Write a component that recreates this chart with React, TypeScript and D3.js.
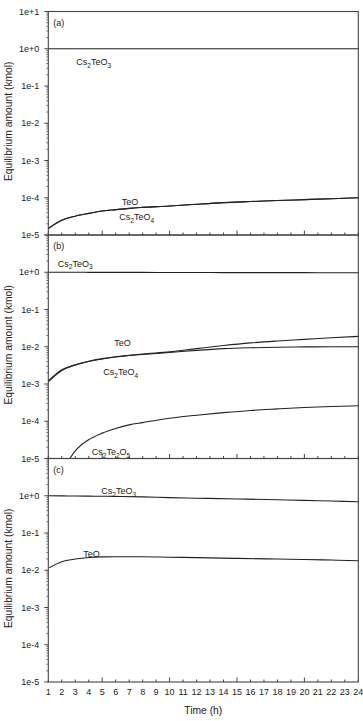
import React, { useEffect, useRef } from "react";
import * as d3 from "d3";

// hours shown on the time axis
const hourTicks = d3.range(1, 25);
const decadeLabels = ["1e-5", "1e-4", "1e-3", "1e-2", "1e-1", "1e+0", "1e+1"];

// (a)
const timeA = [1, 2, 3, 4, 5, 6, 7, 8, 10, 12, 14, 16, 18, 20, 22, 24];
const cs2teo3A = [1, 1, 1, 1, 1, 1, 1, 1, 1, 1, 1, 1, 1, 1, 1, 1];
const teoA = [1.5e-5, 2.5e-5, 3.2e-5, 3.8e-5, 4.4e-5, 4.8e-5, 5.2e-5, 5.5e-5, 6.0e-5, 6.7e-5, 7.4e-5, 7.9e-5, 8.4e-5, 8.9e-5, 9.4e-5, 1.0e-4];
const cs2teo4A = [1.5e-5, 2.5e-5, 3.2e-5, 3.8e-5, 4.4e-5, 4.8e-5, 5.2e-5, 5.5e-5, 6.0e-5, 6.7e-5, 7.4e-5, 7.9e-5, 8.4e-5, 8.9e-5, 9.4e-5, 1.0e-4];

// (b)
const timeB = [1, 2, 3, 4, 5, 6, 7, 8, 10, 12, 14, 16, 18, 20, 22, 24];
const cs2teo3B = [1, 1, 1, 0.995, 0.995, 0.99, 0.99, 0.99, 0.985, 0.985, 0.98, 0.98, 0.975, 0.975, 0.97, 0.97];
const teoB = [1.2e-3, 2.4e-3, 3.3e-3, 4.1e-3, 4.8e-3, 5.4e-3, 5.9e-3, 6.4e-3, 7.3e-3, 8.9e-3, 1.08e-2, 1.27e-2, 1.43e-2, 1.58e-2, 1.75e-2, 1.9e-2];
const cs2teo4B = [1.15e-3, 2.3e-3, 3.2e-3, 4.0e-3, 4.7e-3, 5.3e-3, 5.8e-3, 6.2e-3, 7.0e-3, 8.0e-3, 8.9e-3, 9.4e-3, 9.7e-3, 9.9e-3, 1.0e-2, 1.0e-2];
const timeB2 = [2.6, 3, 4, 5, 6, 7, 8, 10, 12, 14, 16, 18, 20, 22, 24];
const cs2te2o5B = [1.0e-5, 1.6e-5, 3.2e-5, 4.8e-5, 6.4e-5, 8.0e-5, 9.2e-5, 1.2e-4, 1.45e-4, 1.7e-4, 1.95e-4, 2.15e-4, 2.35e-4, 2.5e-4, 2.6e-4];

// (c)
const timeC = [1, 2, 3, 4, 5, 6, 8, 10, 12, 15, 18, 20, 22, 24];
const cs2teo3C = [1.0, 0.99, 0.985, 0.975, 0.97, 0.96, 0.93, 0.89, 0.86, 0.82, 0.78, 0.75, 0.72, 0.69];
const teoC = [1.14e-2, 1.7e-2, 2.0e-2, 2.2e-2, 2.28e-2, 2.3e-2, 2.3e-2, 2.24e-2, 2.18e-2, 2.08e-2, 2.0e-2, 1.95e-2, 1.88e-2, 1.8e-2];

type Series = { t: number[]; v: number[] };
type Label = { text: string; x: number; y: number };

const panels: { tag: string; series: Series[]; labels: Label[] }[] = [
  {
    tag: "(a)",
    series: [
      { t: timeA, v: cs2teo3A },
      { t: timeA, v: teoA },
      { t: timeA, v: cs2teo4A },
    ],
    // label anchors in pixels relative to panel top-left (plot area)
    labels: [
      { text: "Cs_2TeO_3", x: 28, y: 53.5 },
      { text: "TeO", x: 73.5, y: 193 },
      { text: "Cs_2TeO_4", x: 71, y: 208.5 },
    ],
  },
  {
    tag: "(b)",
    series: [
      { t: timeB, v: cs2teo3B },
      { t: timeB, v: teoB },
      { t: timeB, v: cs2teo4B },
      { t: timeB2, v: cs2te2o5B },
    ],
    labels: [
      { text: "Cs_2TeO_3", x: 9.5, y: 31.5 },
      { text: "TeO", x: 66, y: 111 },
      { text: "Cs_2TeO_4", x: 55, y: 140 },
      { text: "Cs_2Te_2O_5", x: 43.5, y: 220 },
    ],
  },
  {
    tag: "(c)",
    series: [
      { t: timeC, v: cs2teo3C },
      { t: timeC, v: teoC },
    ],
    labels: [
      { text: "Cs_2TeO_3", x: 53, y: 35.5 },
      { text: "TeO", x: 35, y: 98.5 },
    ],
  },
];

const FONT = "'Liberation Sans', Arial, Helvetica, sans-serif";
const INK = "#222";
const FRAME = "#444";

const App = () => {
  const chartRef = useRef<SVGSVGElement>(null);

  useEffect(() => {
    const svg = d3.select(chartRef.current);
    svg.selectAll("*").remove();

    const width = 363;
    const height = 721;
    const left = 48.3;
    const right = 358.3;
    const top0 = 11.5;
    const panelH = 223.5;

    svg.attr("width", width).attr("height", height);
    svg.append("rect").attr("width", width).attr("height", height).attr("fill", "#fff");

    const x = d3.scaleLinear().domain([1, 24]).range([left, right]);

    const addLabel = (g: any, text: string, lx: number, ly: number) => {
      const t = g
        .append("text")
        .attr("x", lx)
        .attr("y", ly)
        .attr("font-family", FONT)
        .attr("font-size", 9)
        .attr("fill", INK);
      // "_2" marks a subscript digit
      const parts = text.split(/(_\d)/).filter((s) => s.length);
      let sub = false;
      parts.forEach((p) => {
        if (p.startsWith("_")) {
          t.append("tspan").attr("dy", 2.5).attr("font-size", 6.5).text(p.slice(1));
          sub = true;
        } else {
          t.append("tspan").attr("dy", sub ? -2.5 : 0).text(p);
          sub = false;
        }
      });
    };

    panels.forEach((panel, i) => {
      const top = top0 + i * panelH;
      const bottom = top + panelH;
      const y = d3.scaleLog().domain([1e-5, 1e1]).range([bottom, top]);

      const clipId = `clip-${i}`;
      svg
        .append("clipPath")
        .attr("id", clipId)
        .append("rect")
        .attr("x", left)
        .attr("y", top)
        .attr("width", right - left)
        .attr("height", panelH);

      const line = d3.line().curve(d3.curveMonotoneX);

      const g = svg.append("g").attr("clip-path", `url(#${clipId})`);
      panel.series.forEach((s) => {
        const pts = s.t.map((t, j) => [x(t), y(s.v[j])] as [number, number]);
        g.append("path")
          .attr("d", line(pts))
          .attr("fill", "none")
          .attr("stroke", INK)
          .attr("stroke-width", 1.1);
      });

      // frame
      svg
        .append("rect")
        .attr("x", left)
        .attr("y", top)
        .attr("width", right - left)
        .attr("height", panelH)
        .attr("fill", "none")
        .attr("stroke", FRAME)
        .attr("stroke-width", 1.1);

      // y ticks: decades and 2..9 minors, pointing out
      const decades = d3.range(-5, 2);
      decades.forEach((d, k) => {
        const v = Math.pow(10, d);
        svg
          .append("line")
          .attr("x1", left - 4)
          .attr("x2", left)
          .attr("y1", y(v))
          .attr("y2", y(v))
          .attr("stroke", FRAME)
          .attr("stroke-width", 1);
        if (d < 1) {
          for (let m = 2; m <= 9; m++) {
            svg
              .append("line")
              .attr("x1", left - 2)
              .attr("x2", left)
              .attr("y1", y(m * v))
              .attr("y2", y(m * v))
              .attr("stroke", FRAME)
              .attr("stroke-width", 0.7);
          }
        }
        if (d < 1 || i === 0) {
          svg
            .append("text")
            .attr("x", left - 9)
            .attr("y", y(v))
            .attr("dy", "0.35em")
            .attr("text-anchor", "end")
            .attr("font-family", FONT)
            .attr("font-size", 9)
            .attr("fill", INK)
            .text(decadeLabels[k]);
        }
      });

      // x ticks pointing into the plot
      hourTicks.forEach((h) => {
        const major = h % 5 === 0;
        svg
          .append("line")
          .attr("x1", x(h))
          .attr("x2", x(h))
          .attr("y1", bottom)
          .attr("y2", bottom - (major ? 4.5 : 2.5))
          .attr("stroke", FRAME)
          .attr("stroke-width", 1);
      });

      // panel tag and species labels
      const pg = svg.append("g").attr("transform", `translate(${left},${top})`);
      pg.append("text")
        .attr("x", 5)
        .attr("y", 14)
        .attr("font-family", FONT)
        .attr("font-size", 9)
        .attr("fill", INK)
        .text(panel.tag);
      panel.labels.forEach((l) => addLabel(pg, l.text, l.x, l.y));

      // y axis title
      svg
        .append("text")
        .attr("transform", `translate(8,${(top + bottom) / 2 - 2}) rotate(-90)`)
        .attr("text-anchor", "middle")
        .attr("dy", "0.35em")
        .attr("font-family", FONT)
        .attr("font-size", 10.3)
        .attr("fill", INK)
        .text("Equilibrium amount (kmol)");

      if (i === panels.length - 1) {
        hourTicks.forEach((h) => {
          svg
            .append("text")
            .attr("x", x(h))
            .attr("y", bottom + 10)
            .attr("dy", "0.35em")
            .attr("text-anchor", "middle")
            .attr("font-family", FONT)
            .attr("font-size", 9)
            .attr("fill", INK)
            .text(h);
        });
        svg
          .append("text")
          .attr("x", (left + right) / 2)
          .attr("y", bottom + 28)
          .attr("dy", "0.35em")
          .attr("text-anchor", "middle")
          .attr("font-family", FONT)
          .attr("font-size", 10.3)
          .attr("fill", INK)
          .text("Time (h)");
      }
    });
  }, []);

  return (
    <svg
      ref={chartRef}
      style={{ position: "absolute", left: 0, top: 0, display: "block" }}
    ></svg>
  );
};

export default App;
